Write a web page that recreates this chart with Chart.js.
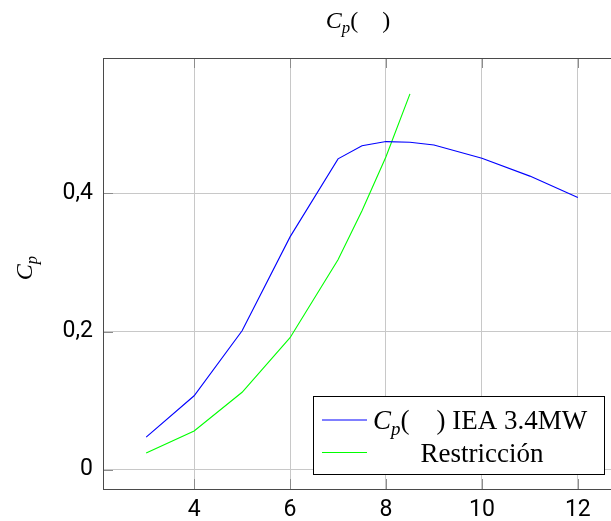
<!DOCTYPE html>
<html>
<head>
<meta charset="utf-8">
<script src="https://cdn.jsdelivr.net/npm/chart.js@4.4.0/dist/chart.umd.min.js"></script>
<style>
  html, body { margin: 0; padding: 0; overflow: hidden; background: #fff; }
  canvas { display: block; }
</style>
</head>
<body>
<canvas id="chartCp" width="640" height="521"></canvas>
<script>
// curva Cp de la turbina IEA 3.4MW y curva de restricción
const lambdaIEA = [3, 4, 5, 6, 7, 7.5, 8, 8.5, 9, 10, 11, 12];
const cpIEA = [0.047, 0.107, 0.201, 0.337, 0.450, 0.469, 0.475, 0.474, 0.470, 0.451, 0.425, 0.394];

const lambdaRestr = [3, 4, 5, 6, 7, 7.5, 8, 8.5];
const cpRestr = [0.024, 0.056, 0.112, 0.191, 0.304, 0.375, 0.453, 0.544];

const xTicks = [4, 6, 8, 10, 12];
const yTicks = [0, 0.2, 0.4];
const yTickLabels = ["0", "0,2", "0,4"];

const serif = "'Liberation Serif', 'DejaVu Serif', serif";
const sans = "Roboto, 'Liberation Sans', sans-serif";

// escribe texto con partes en cursiva y subíndices
function richText(ctx, parts, x, y, size, align) {
  const fontOf = p => `${p.it ? "italic " : ""}${p.sub ? size * 0.7 : size}px ${serif}`;
  let w = 0;
  parts.forEach(p => { ctx.font = fontOf(p); w += ctx.measureText(p.t).width; });
  let cx = align === "center" ? x - w / 2 : x;
  ctx.textAlign = "left";
  ctx.textBaseline = "alphabetic";
  parts.forEach(p => {
    ctx.font = fontOf(p);
    ctx.fillText(p.t, cx, p.sub ? y + size * 0.22 : y);
    cx += ctx.measureText(p.t).width;
  });
}

const cpParts = [{ t: "C", it: true }, { t: "p", it: true, sub: true }];

const decoraciones = {
  id: "decoraciones",
  afterDraw(chart) {
    const { ctx, chartArea: a, scales } = chart;
    ctx.save();

    // marcas de los ejes hacia adentro
    ctx.strokeStyle = "#8c8c8c";
    ctx.lineWidth = 1;
    xTicks.forEach(v => {
      const px = Math.round(scales.x.getPixelForValue(v)) + 0.5;
      ctx.beginPath();
      ctx.moveTo(px, a.bottom); ctx.lineTo(px, a.bottom - 10);
      ctx.moveTo(px, a.top); ctx.lineTo(px, a.top + 10);
      ctx.stroke();
    });
    yTicks.forEach(v => {
      const py = Math.round(scales.y.getPixelForValue(v)) + 0.5;
      ctx.beginPath();
      ctx.moveTo(a.left, py); ctx.lineTo(a.left + 10, py);
      ctx.moveTo(a.right, py); ctx.lineTo(a.right - 10, py);
      ctx.stroke();
    });

    // marco
    ctx.strokeStyle = "#4a4a4a";
    ctx.strokeRect(Math.round(a.left) + 0.5, Math.round(a.top) + 0.5, a.right - a.left, a.bottom - a.top);

    ctx.fillStyle = "#000";
    // título
    richText(ctx, [...cpParts, { t: "(    )" }], 358, 28, 24, "center");

    // etiqueta del eje y
    ctx.save();
    ctx.translate(32, 268);
    ctx.rotate(-Math.PI / 2);
    richText(ctx, cpParts, 0, 0, 24, "center");
    ctx.restore();

    // leyenda
    const lx = 313.5, ly = 396.5, lw = 291, lh = 78;
    ctx.fillStyle = "#fff";
    ctx.fillRect(lx, ly, lw, lh);
    ctx.strokeStyle = "#000";
    ctx.strokeRect(lx, ly, lw, lh);
    const series = chart.data.datasets;
    [420, 452.5].forEach((yy, i) => {
      ctx.strokeStyle = series[i].borderColor;
      ctx.beginPath();
      ctx.moveTo(322, yy); ctx.lineTo(367, yy);
      ctx.stroke();
    });
    ctx.fillStyle = "#000";
    richText(ctx, [...cpParts, { t: "(    ) IEA 3.4MW" }], 373, 429, 27, "left");
    richText(ctx, [{ t: "Restricción" }], 482, 462, 27, "center");

    ctx.restore();
  }
};

new Chart(document.getElementById("chartCp"), {
  type: "line",
  data: {
    datasets: [
      {
        label: "Cp IEA 3.4MW",
        data: lambdaIEA.map((x, i) => ({ x, y: cpIEA[i] })),
        borderColor: "#0000ff",
        borderWidth: 1.1,
        pointRadius: 0,
        tension: 0
      },
      {
        label: "Restricción",
        data: lambdaRestr.map((x, i) => ({ x, y: cpRestr[i] })),
        borderColor: "#00ff00",
        borderWidth: 1.1,
        pointRadius: 0,
        tension: 0
      }
    ]
  },
  options: {
    responsive: false,
    animation: false,
    layout: { padding: { top: 58, right: 19, left: 0, bottom: 0 } },
    plugins: { legend: { display: false }, title: { display: false }, tooltip: { enabled: false } },
    scales: {
      x: {
        type: "linear",
        min: 2.1,
        max: 12.9,
        afterBuildTicks: s => { s.ticks = xTicks.map(v => ({ value: v })); },
        afterFit: s => { s.height = 32; },
        grid: { color: "#c8c8c8", lineWidth: 1, drawTicks: false },
        border: { display: false },
        ticks: { padding: 7, color: "#000", font: { family: sans, size: 23 }, maxRotation: 0 }
      },
      y: {
        type: "linear",
        min: -0.028,
        max: 0.596,
        afterBuildTicks: s => { s.ticks = yTicks.map(v => ({ value: v })); },
        afterFit: s => { s.width = 103; },
        grid: { color: "#c8c8c8", lineWidth: 1, drawTicks: false },
        border: { display: false },
        ticks: {
          padding: 10,
          color: "#000",
          font: { family: sans, size: 23 },
          callback: v => yTickLabels[yTicks.indexOf(v)]
        }
      }
    }
  },
  plugins: [decoraciones]
});
</script>
</body>
</html>
